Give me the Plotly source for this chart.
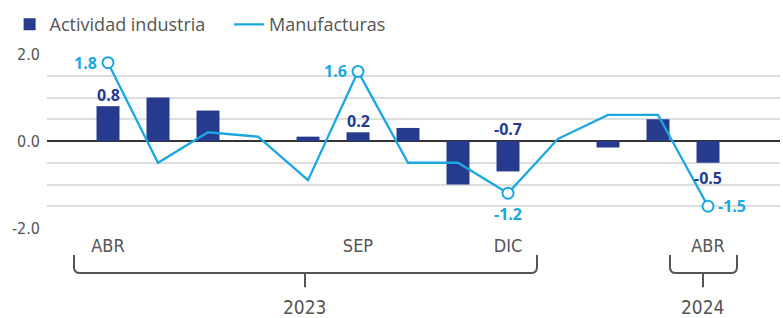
import plotly.graph_objects as go

months = ["ABR", "MAY", "JUN", "JUL", "AGO", "SEP", "OCT", "NOV", "DIC", "ENE", "FEB", "MAR", "ABR "]
actividad = [0.8, 1.0, 0.7, 0.0, 0.1, 0.2, 0.3, -1.0, -0.7, 0.0, -0.15, 0.5, -0.5]
manufacturas = [1.8, -0.5, 0.2, 0.1, -0.9, 1.6, -0.5, -0.5, -1.2, 0.05, 0.6, 0.6, -1.5]

tick_idx = [0, 5, 8, 12]
tick_text = ["ABR", "SEP", "DIC", "ABR"]
years = ["2023", "2024"]

bar_label_idx = [0, 5, 8, 12]
line_label_idx = [0, 5, 8, 12]

NAVY = "#263B8E"
CYAN = "#1BA7E1"
GRAY = "#555555"
AXFONT = "DejaVu Sans Condensed, Roboto, sans-serif"

x = list(range(len(months)))

fig = go.Figure()
fig.add_trace(go.Bar(
    x=x, y=actividad, name="Actividad industria    ",
    marker=dict(color=NAVY, line=dict(width=0)), width=0.46,
))
fig.add_trace(go.Scatter(
    x=x, y=manufacturas, name="Manufacturas", mode="lines",
    line=dict(color=CYAN, width=2.3), cliponaxis=False,
))
fig.add_trace(go.Scatter(
    x=[x[i] for i in line_label_idx], y=[manufacturas[i] for i in line_label_idx],
    mode="markers", showlegend=False, cliponaxis=False,
    marker=dict(symbol="circle", size=11, color="white", line=dict(color=CYAN, width=2)),
))

lab_font = dict(family="Open Sans", size=16, color=NAVY, weight="bold")
bar_pos = {0: "above", 5: "above", 8: "zero", 12: "below"}
for i in bar_label_idx:
    v = actividad[i]
    kind = bar_pos[i]
    if kind == "above":
        fig.add_annotation(x=x[i], y=v, text=f"{v:.1f}", showarrow=False, yanchor="bottom",
                           yshift=-2, font=lab_font)
    elif kind == "zero":
        fig.add_annotation(x=x[i], y=0, text=f"{v:.1f}", showarrow=False, yanchor="bottom",
                           yshift=-1, font=lab_font)
    else:
        fig.add_annotation(x=x[i], y=v, text=f"{v:.1f}", showarrow=False, yanchor="top",
                           yshift=-2, font=lab_font)

lfont = dict(family="Open Sans", size=16, color=CYAN, weight="bold")
line_pos = {0: "left", 5: "left", 8: "below", 12: "right"}
for i in line_label_idx:
    v = manufacturas[i]
    kind = line_pos[i]
    if kind == "left":
        fig.add_annotation(x=x[i], y=v, text=f"{v:.1f}", showarrow=False, xanchor="right",
                           xshift=-9, font=lfont)
    elif kind == "right":
        fig.add_annotation(x=x[i], y=v, text=f"{v:.1f}", showarrow=False, xanchor="left",
                           xshift=8, font=lfont)
    else:
        fig.add_annotation(x=x[i], y=v, text=f"{v:.1f}", showarrow=False, yanchor="top",
                           yshift=-8, font=lfont)

def brace(x0, x1, xc):
    r = 0.12
    yt, yb, yc = -0.155, -0.259, -0.34
    return (f"M {x0},{yt} L {x0},{yb + 0.034} Q {x0},{yb} {x0 + r},{yb} "
            f"L {x1 - r},{yb} Q {x1},{yb} {x1},{yb + 0.034} L {x1},{yt} "
            f"M {xc},{yb} L {xc},{yc}")

for (x0, x1, xc), yr in zip([(-0.68, 8.58, 3.94), (11.24, 12.58, 11.9)], years):
    fig.add_shape(type="path", path=brace(x0, x1, xc), xref="x", yref="paper",
                  line=dict(color=GRAY, width=2))
    fig.add_annotation(x=xc, y=-0.455, xref="x", yref="paper", text=yr, showarrow=False,
                       yanchor="middle", font=dict(family=AXFONT, size=19, color=GRAY))

fig.update_layout(
    width=783, height=318,
    margin=dict(l=47, r=3, t=54, b=90, autoexpand=False),
    plot_bgcolor="white", paper_bgcolor="white",
    showlegend=True,
    legend=dict(orientation="h", x=-0.051, y=1.275, xanchor="left", yanchor="top",
                font=dict(family="Open Sans", size=18, color=GRAY),
                itemwidth=30, tracegroupgap=0, bgcolor="rgba(0,0,0,0)"),
    xaxis=dict(range=[-1.22, 13.44], tickvals=tick_idx, ticktext=tick_text,
               showgrid=False, zeroline=False, showline=False, ticks="",
               ticklabelstandoff=5,
               tickfont=dict(family=AXFONT, size=18, color=GRAY)),
    yaxis=dict(range=[-2, 2], tickvals=[-2, 0, 2], ticktext=["-2.0", "0.0", "2.0"],
               showgrid=True, gridcolor="#DEDEDE", gridwidth=1.5,
               zeroline=True, zerolinecolor="#333333", zerolinewidth=2,
               minor=dict(dtick=0.5, tick0=0, showgrid=True, gridcolor="#DEDEDE", gridwidth=1.5, ticks=""),
               ticks="", ticklabelstandoff=6,
               tickfont=dict(family=AXFONT, size=16, color=GRAY)),
)

fig.write_html("out.html", config={"displayModeBar": False},
               post_script="document.body.style.margin='0px';")
